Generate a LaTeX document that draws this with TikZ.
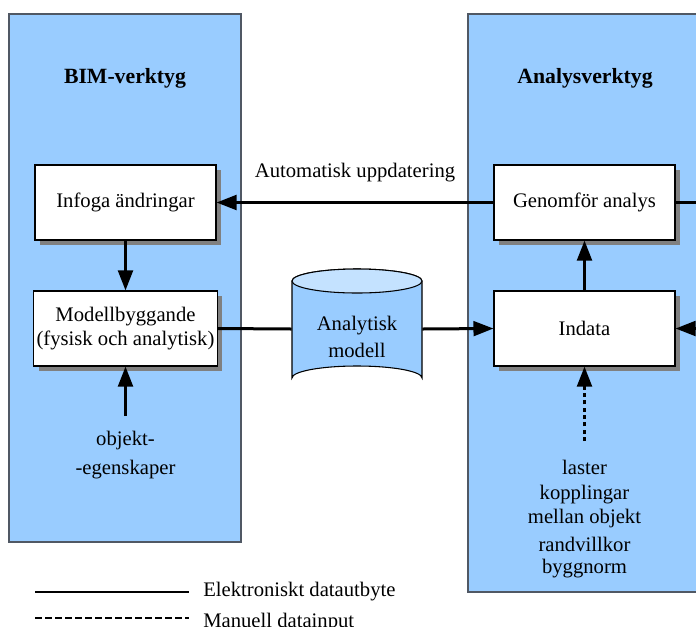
\documentclass[tikz,border=0pt]{standalone}
\usepackage{fontspec}
\setmainfont{Liberation Serif}
\usetikzlibrary{arrows.meta,shadows}
\definecolor{panelblue}{RGB}{153,204,255}
\definecolor{cyltop}{RGB}{196,226,255}
\definecolor{shadowgray}{RGB}{128,128,128}
\definecolor{paneledge}{RGB}{80,88,100}
\begin{document}
\begin{tikzpicture}[x=0.75pt,y=-0.75pt,
  txt/.style={font=\fontsize{15.5}{18.5}\selectfont, inner sep=0pt, align=center},
  title/.style={font=\fontsize{16.3}{19}\selectfont\bfseries, inner sep=0pt},
  panel/.style={draw=paneledge, fill=panelblue, line width=0.8pt},
  procbox/.style={draw=black, fill=white, line width=0.8pt, minimum width=135.75pt, minimum height=56.25pt,
    font=\fontsize{15.5}{18.5}\selectfont, align=center, inner sep=2pt,
    drop shadow={shadow xshift=3.75pt, shadow yshift=-3.75pt, fill=shadowgray, opacity=1}},
  conn/.style={line width=2.25pt},
  arr/.style={line width=2.25pt, -{Triangle[length=15pt,width=11pt]}},
  darr/.style={line width=2.25pt, dash pattern=on 3pt off 2.5pt, -{Triangle[length=15pt,width=11pt]}},
]
\useasboundingbox (0,0) rectangle (696,626);
% panels
\draw[panel] (9,14) rectangle (241,542);
\draw[panel] (468,14) rectangle (720,592);
\node[title] (bimt) at (125,78) {BIM-verktyg};
\node[title] (anat) at (585,78) {Analysverktyg};
% boxes
\node[procbox] (infoga) at (125.5,202.5) {Infoga ändringar};
\node[procbox] (modell) at (125.5,328.5) {Modellbyggande\\(fysisk och analytisk)};
\node[procbox] (genom) at (584.5,202.5) {Genomför analys};
\node[procbox] (indata) at (584.5,328.5) {Indata};
% cylinder
\draw[line width=0.8pt, fill=panelblue] (292,281) -- (292,378) arc[start angle=180, end angle=360, x radius=65, y radius=12] -- (422,281) arc[start angle=0, end angle=180, x radius=65, y radius=-12] -- cycle;
\draw[line width=0.8pt, fill=cyltop] (357,281) ellipse[x radius=65, y radius=12];
\node[minimum width=97.5pt, minimum height=80pt, inner sep=0pt] (cyl) at (357,329) {};
\node[txt] (cyltxt) at (357,337) {Analytisk\\[2pt]modell};
% external coordinates
\coordinate (rgt1) at (700,202.5);
\coordinate (rgt2) at (700,328.5);
\coordinate (objsrc) at (125.5,416);
\coordinate (indsrc) at (584.5,441);
% connectors
\draw[arr] (genom.west) -- node[txt, above=14pt] (autolbl) {Automatisk uppdatering} (infoga.east);
\draw[conn] (genom.east) -- (rgt1);
\draw[arr] (rgt2) -- (indata.east);
\draw[conn] (modell.east) -- (cyl.west);
\draw[arr] (cyl.east) -- (indata.west);
\draw[arr] (infoga.south) -- (modell.north);
\draw[arr] (objsrc) -- (modell.south);
\draw[arr] (indata.north) -- (genom.south);
\draw[darr] (indsrc) -- (indata.south);
% texts
\node[txt] (objtxt) at (125.5,455) {objekt-\\[3pt]-egenskaper};
\node[txt] (l1) at (584.5,467) {laster};
\node[txt] (l2) at (584.5,506.5) {kopplingar\\mellan objekt};
\node[txt] (l4) at (584.5,544) {randvillkor};
\node[txt] (l5) at (584.5,569) {byggnorm};
% legend
\coordinate (lg1a) at (35,592);
\coordinate (lg1b) at (189,592);
\coordinate (lg2a) at (35,618);
\coordinate (lg2b) at (189,618);
\draw[line width=1.8pt] (lg1a) -- (lg1b);
\draw[line width=1.8pt, dash pattern=on 5pt off 2.5pt] (lg2a) -- (lg2b);
\node[txt, anchor=west] (leg1) at (203,592) {Elektroniskt datautbyte};
\node[txt, anchor=west] (leg2) at (203,623) {Manuell datainput};
\end{tikzpicture}
\end{document}
